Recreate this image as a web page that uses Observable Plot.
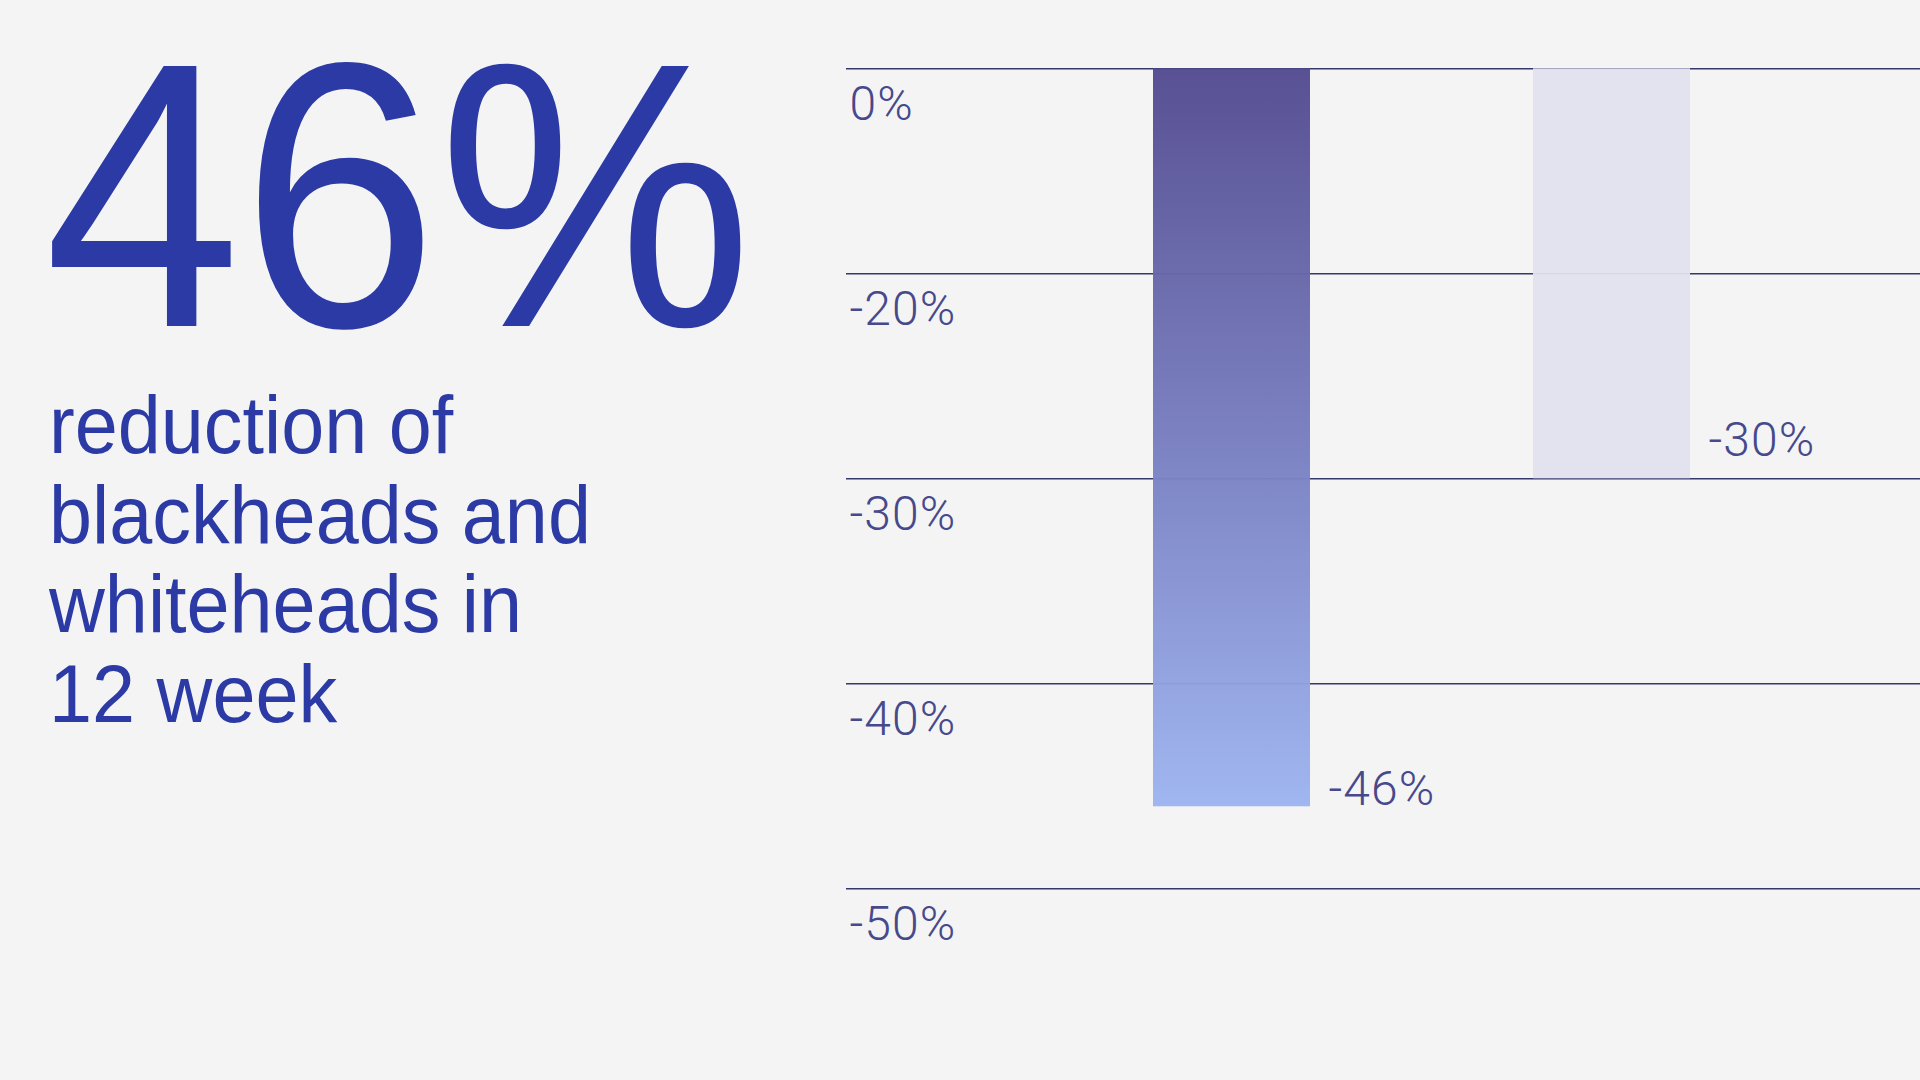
<!DOCTYPE html>
<html><head><meta charset="utf-8">
<script src="https://cdn.jsdelivr.net/npm/d3@7"></script>
<script src="https://cdn.jsdelivr.net/npm/@observablehq/plot@0.6"></script>
<style>
html,body{margin:0;padding:0;background:#f4f4f4;width:1920px;height:1080px;overflow:hidden}
#big{position:absolute;left:44px;top:44px;font-family:"Liberation Sans",Arial,sans-serif;font-size:378px;line-height:0.8;color:#2b3aa5;transform:scaleX(0.937);transform-origin:0 0;white-space:nowrap}
#desc{position:absolute;left:49px;top:381px;font-family:"Liberation Sans",Arial,sans-serif;font-size:81px;line-height:89.7px;color:#2b3aa5;transform:scaleX(0.955);transform-origin:0 0;white-space:nowrap}
#chart{position:absolute;left:846px;top:0}
</style></head><body>
<div id="big"></div><div id="desc"></div><div id="chart"></div>
<script>
const headline = "46%";
const descLines = ["reduction of", "blackheads and", "whiteheads in", "12 week"];
const categories = ["Treatment", "Comparison"];
const values = [-46, -30];
const valueLabels = ["-46%", "-30%"];
const tickValues = [0, -20, -30, -40, -50];
const tickLabels = ["0%", "-20%", "-30%", "-40%", "-50%"];

document.getElementById("big").textContent = headline;
document.getElementById("desc").innerHTML = descLines.map(s => `<div>${s}</div>`).join("");

const data = categories.map((c, i) => ({category: c, value: values[i], label: valueLabels[i]}));
const first = data.slice(0, 1), second = data.slice(1, 2);
const tickColor = "#46498b";

const chart = Plot.plot({
  width: 1074,
  height: 1080,
  marginLeft: 0, marginRight: 0, marginTop: 68.3, marginBottom: 191.7,
  style: {background: "transparent", fontFamily: "Roboto, 'Liberation Sans', sans-serif", letterSpacing: "0.11em"},
  x: {domain: categories, range: [83, 1067.5], paddingInner: 0.5874, paddingOuter: 0.5874, axis: null},
  // piecewise linear axis: the ticks are evenly spaced although their values are not
  y: {type: "linear", domain: tickValues, reverse: true, axis: null},
  marks: [
    Plot.ruleY(tickValues, {stroke: "#35386b", strokeWidth: 1.5}),
    Plot.text(tickValues, {
      y: d => d, text: (d, i) => tickLabels[i], frameAnchor: "left", textAnchor: "start",
      dx: 3, dy: 35.5, fontSize: 48, fontWeight: 300, fill: tickColor
    }),
    Plot.barY(first, {x: "category", y: "value", fill: "url(#barGrad)", fillOpacity: 0.96}),
    Plot.barY(second, {x: "category", y: "value", fill: "#e1e1ef", fillOpacity: 0.95}),
    Plot.text(first, {x: "category", y: "value", text: "label", textAnchor: "start", lineAnchor: "bottom",
      dx: 96.5, dy: -2, fontSize: 48, fontWeight: 300, fill: tickColor}),
    Plot.text(second, {x: "category", y: "value", text: "label", textAnchor: "start", lineAnchor: "bottom",
      dx: 96.5, dy: -23, fontSize: 48, fontWeight: 300, fill: tickColor})
  ]
});

const grad = d3.select(chart).insert("defs", ":first-child")
  .append("linearGradient").attr("id", "barGrad")
  .attr("x1", 0).attr("y1", 0).attr("x2", 0).attr("y2", 1);
grad.append("stop").attr("offset", "0%").attr("stop-color", "#524a8f");
grad.append("stop").attr("offset", "50%").attr("stop-color", "#777dbf");
grad.append("stop").attr("offset", "100%").attr("stop-color", "#9db4f0");

document.getElementById("chart").appendChild(chart);
</script>
</body></html>
